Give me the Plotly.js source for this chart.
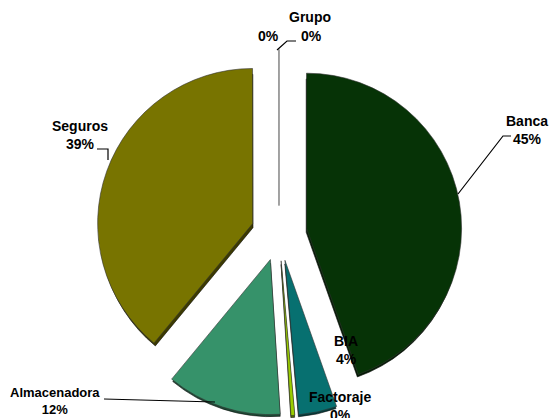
<!DOCTYPE html>
<html>
<head>
<meta charset="utf-8">
<script src="https://cdn.plot.ly/plotly-3.0.1.min.js"></script>
<style>html,body{margin:0;padding:0;background:#fff;}#chart{width:552px;height:418px;}</style>
</head>
<body>
<div id="chart"></div>
<script>
// ---- data ----
const categories = ['Banca', 'BIA', 'Factoraje', 'Almacenadora', 'Seguros', 'Grupo', ''];
const shares = [44.6, 4.0, 0.4, 12.0, 39.0, 0.01, 0.01];
const shareLabels = ['45%', '4%', '0%', '12%', '39%', '0%', '0%'];

// ---- styles ----
const sliceColors = ['#063306', '#077070', '#9ACD00', '#36926A', '#787400', '#ffffff', '#ffffff'];
const rimColors = ['#021c02', '#033c3c', '#4f6a00', '#1b4a34', '#3c3a00', '#ffffff', '#ffffff'];
const edgeColors = ['#333333', '#333333', '#333333', '#333333', '#333333', '#9a9a9a', '#9a9a9a'];
const edgeWidths = [0.6, 0.6, 0.6, 0.6, 0.6, 1.4, 1.4];
const pullFrac = 0.18;

const W = 552, H = 418;
const px = (x) => x / W;
const py = (y) => 1 - y / H;

// pie box (center 279,233 ; half size 183)
const cx = 279, cy = 233, half = 183, depth = 6;
const dom = {x: [px(cx - half), px(cx + half)], y: [py(cy + half), py(cy - half)]};
const domRim = {x: dom.x, y: [py(cy + half + depth), py(cy - half + depth)]};

const common = {
  type: 'pie',
  labels: categories.map((c, i) => c + '#' + i),
  values: shares,
  sort: false,
  direction: 'clockwise',
  rotation: 0,
  pull: shares.map(() => pullFrac),
  textinfo: 'none',
  hoverinfo: 'skip',
  showlegend: false
};

const rimTrace = Object.assign({}, common, {
  domain: domRim,
  marker: {colors: rimColors, line: {color: edgeColors.map((c, i) => i < 5 ? '#111111' : '#ffffff'), width: 0.6}}
});
const topTrace = Object.assign({}, common, {
  domain: dom,
  marker: {colors: sliceColors, line: {color: edgeColors, width: edgeWidths}}
});

// ---- labels ----
const labelFont = {family: 'Liberation Sans, Arial, sans-serif', size: 14, color: '#000', weight: 'bold'};
const labelPos = {
  'Banca': [527, 130],
  'BIA': [346, 350],
  'Factoraje': [340, 406],
  'Almacenadora': [55, 401],
  'Seguros': [80, 135]
};
const annotations = [];
categories.forEach((c, i) => {
  if (labelPos[c]) {
    annotations.push({
      xref: 'paper', yref: 'paper', x: px(labelPos[c][0]), y: py(labelPos[c][1]),
      xanchor: 'center', yanchor: 'middle', showarrow: false,
      text: c + '<br>' + shareLabels[i],
      font: Object.assign({}, labelFont, c === 'Almacenadora' ? {size: 13} : {})
    });
  }
});
// Grupo labels
annotations.push({xref: 'paper', yref: 'paper', x: px(310), y: py(17), xanchor: 'center', yanchor: 'middle',
  showarrow: false, text: categories[5], font: labelFont});
annotations.push({xref: 'paper', yref: 'paper', x: px(268), y: py(36), xanchor: 'center', yanchor: 'middle',
  showarrow: false, text: shareLabels[5], font: labelFont});
annotations.push({xref: 'paper', yref: 'paper', x: px(311), y: py(36), xanchor: 'center', yanchor: 'middle',
  showarrow: false, text: shareLabels[6], font: labelFont});

// leader lines
const leader = (pts) => ({
  type: 'path', xref: 'paper', yref: 'paper', layer: 'above',
  path: pts.map((p, k) => (k ? 'L' : 'M') + px(p[0]) + ',' + py(p[1])).join(' '),
  line: {color: '#000', width: 1.2}
});
const shapes = [
  leader([[277, 50], [287, 41], [296, 41]]),
  leader([[97, 149], [108, 149], [108, 160]]),
  leader([[511, 136], [503, 136], [458, 194]]),
  leader([[104, 399], [215, 402]])
];

const layout = {
  width: W, height: H,
  margin: {l: 0, r: 0, t: 0, b: 0},
  paper_bgcolor: '#ffffff',
  plot_bgcolor: '#ffffff',
  showlegend: false,
  annotations: annotations,
  shapes: shapes
};

Plotly.newPlot('chart', [rimTrace, topTrace], layout, {staticPlot: true, displayModeBar: false});
</script>
</body>
</html>
